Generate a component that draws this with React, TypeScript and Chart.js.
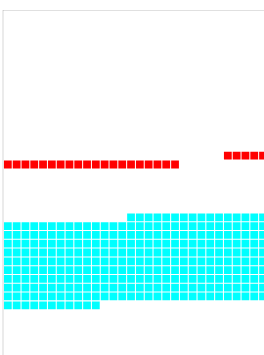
import React, { useEffect, useRef } from "react";
import { Chart, registerables } from "chart.js";

Chart.register(...registerables);

// Column categories (x positions of the cells)
const columns = [
  0, 1, 2, 3, 4, 5, 6, 7, 8, 9, 10, 11, 12, 13, 14, 15, 16, 17, 18, 19, 20, 21, 22, 23, 24, 25, 26, 27, 28, 29,
];

// Red series: row level per column (null = no cell)
const redLevel: (number | null)[] = [
  17, 17, 17, 17, 17, 17, 17, 17, 17, 17, 17, 17, 17, 17, 17, 17, 17, 17, 17, 17,
  null, null, null, null, null, 16, 16, 16, 16, 16,
];

// Cyan series: first and last row per column
const cyanTop = [
  24, 24, 24, 24, 24, 24, 24, 24, 24, 24, 24, 24, 24, 24, 23, 23, 23, 23, 23, 23, 23, 23, 23, 23, 23, 23, 23, 23, 23, 23,
];
const cyanBottom = [
  33, 33, 33, 33, 33, 33, 33, 33, 33, 33, 33, 32, 32, 32, 32, 32, 32, 32, 32, 32, 32, 32, 32, 32, 32, 32, 32, 32, 32, 32,
];

export default function App() {
  const ref = useRef<HTMLCanvasElement | null>(null);

  useEffect(() => {
    if (!ref.current) return;
    const redPoints: { x: number; y: number }[] = [];
    const cyanPoints: { x: number; y: number }[] = [];
    columns.forEach((c, i) => {
      const r = redLevel[i];
      if (r !== null) redPoints.push({ x: c, y: r });
      for (let y = cyanTop[i]; y <= cyanBottom[i]; y++) cyanPoints.push({ x: c, y });
    });

    const chart = new Chart(ref.current, {
      type: "scatter",
      data: {
        datasets: [
          {
            data: redPoints,
            backgroundColor: "#ff0000",
            pointStyle: "rect",
            pointRadius: 5.5,
            pointBorderWidth: 0,
          },
          {
            data: cyanPoints,
            backgroundColor: "#00ffff",
            pointStyle: "rect",
            pointRadius: 5.5,
            pointBorderWidth: 0,
          },
        ],
      },
      options: {
        responsive: false,
        animation: false,
        events: [],
        layout: { autoPadding: false, padding: { left: 3, top: 10.5, right: 0, bottom: 0 } },
        plugins: { legend: { display: false }, tooltip: { enabled: false } },
        scales: {
          x: {
            type: "linear",
            position: "top",
            min: -0.55,
            max: 29.11,
            grid: { display: false, drawTicks: false },
            border: { display: true, color: "rgba(0,0,0,0.12)", width: 1 },
            ticks: { display: false },
          },
          y: {
            type: "linear",
            position: "left",
            reverse: true,
            min: -0.5,
            max: 38.65,
            grid: { display: false, drawTicks: false },
            border: { display: true, color: "rgba(0,0,0,0.08)", width: 2 },
            ticks: { display: false },
          },
        },
      },
    });
    return () => chart.destroy();
  }, []);

  return (
    <div style={{ position: "absolute", left: 0, top: 0, width: 264, height: 355 }}>
      <canvas ref={ref} width={264} height={355} style={{ display: "block" }} />
    </div>
  );
}
